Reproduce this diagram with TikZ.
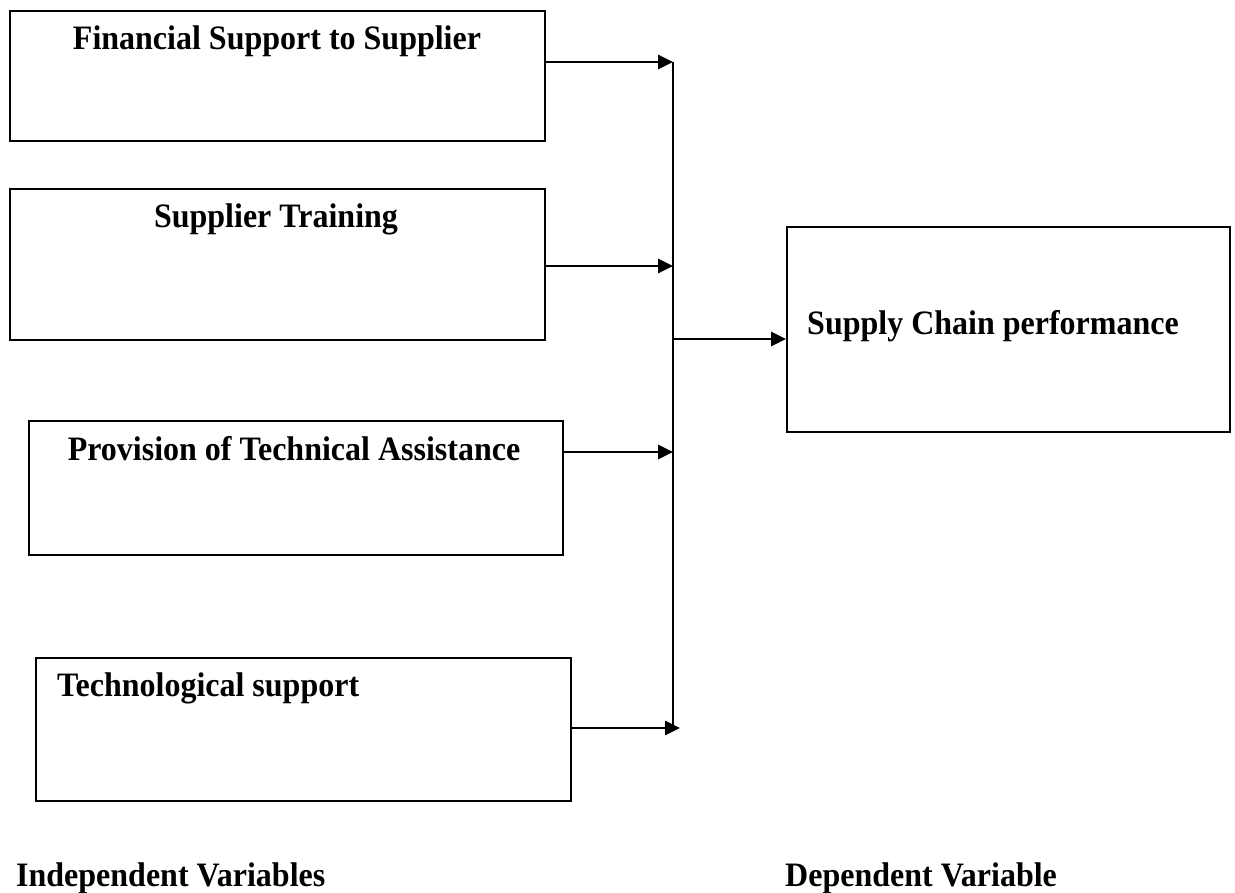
\documentclass[tikz,border=0pt]{standalone}
\usepackage{fontspec}
\setmainfont{Liberation Serif}
\usetikzlibrary{arrows.meta}
\newcommand{\tallText}[1]{\scalebox{1}[1.07]{#1}}
\begin{document}
\begin{tikzpicture}[x=1pt,y=-1pt,
  box/.style={draw, line width=1.8pt, rectangle, inner sep=0pt, anchor=north west},
  lbl/.style={inner sep=0pt, font=\fontsize{32}{36}\selectfont\bfseries},
  conn/.style={line width=2.8pt, -{Triangle[length=15pt,width=14pt]}},
  bus/.style={line width=2pt}]
\useasboundingbox (0,0) rectangle (1235,893);
% boxes
\node[box, minimum width=535pt, minimum height=130pt] (b1) at (9,10) {};
\node[box, minimum width=535pt, minimum height=151pt] (b2) at (9,188) {};
\node[box, minimum width=534pt, minimum height=134pt] (b3) at (28,420) {};
\node[box, minimum width=535pt, minimum height=143pt] (b4) at (35,657) {};
\node[box, minimum width=443pt, minimum height=205pt] (b5) at (786,226) {};
% texts
\node[lbl, anchor=base] (t1) at (277,50) {\tallText{Financial Support to Supplier}};
\node[lbl, anchor=base] (t2) at (276,228) {\tallText{Supplier Training}};
\node[lbl, anchor=base] (t3) at (294,460) {\tallText{Provision of Technical Assistance}};
\node[lbl, anchor=base west] (t4) at (57,696) {\tallText{Technological support}};
\node[lbl, anchor=base west] (t5) at (807,335) {\tallText{Supply Chain performance}};
\node[lbl, anchor=base west] (iv) at (16,886) {\tallText{Independent Variables}};
\node[lbl, anchor=base west] (dv) at (785,886) {\tallText{Dependent Variable}};
% bus
\coordinate (vtop) at (673,62);
\coordinate (vbot) at (673,728);
\coordinate (vmid) at (673,339);
\draw[bus] (vtop) -- (vbot);
% connectors
\draw[conn] (b1.east |- vtop) -- (vtop);
\draw[conn] (b2.east |- 0,266) -- (vtop |- 0,266);
\draw[conn] (b3.east |- 0,452) -- (vtop |- 0,452);
\draw[conn] (b4.east |- vbot) -- ([xshift=7pt]vbot);
\draw[conn] (vmid) -- (b5.west |- vmid);
\end{tikzpicture}
\end{document}
